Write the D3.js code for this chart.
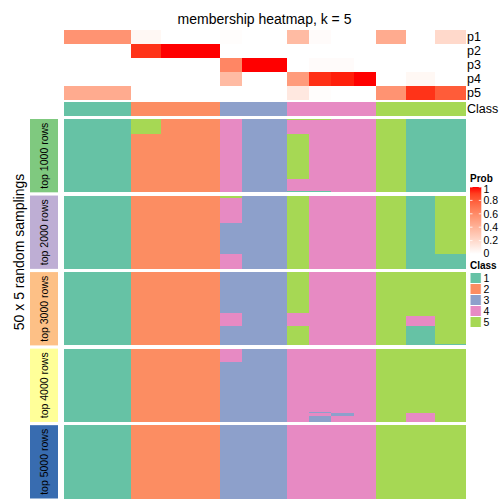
<!DOCTYPE html>
<html><head><meta charset="utf-8">
<script src="https://cdn.jsdelivr.net/npm/d3@7"></script>
<style>body{margin:0;background:#fff}svg{display:block}text{font-family:"Liberation Sans",Arial,sans-serif;fill:#000}</style>
</head><body><div id="chart"></div>
<script>
// ---- data ----
const groupSizes = [9, 4, 8, 3, 6, 3, 3, 3, 3, 4, 4, 4];
const groupClass = [1, 2, 2, 3, 3, 4, 4, 4, 4, 5, 5, 5];
const probP1 = [0.56, 0.04, 0, 0.01, 0, 0.36, 0.02, 0, 0, 0.44, 0, 0.2];
const probP2 = [0, 0.93, 1, 0, 0, 0, 0, 0, 0, 0, 0, 0];
const probP3 = [0, 0, 0, 0.62, 1, 0, 0.02, 0.02, 0, 0, 0, 0];
const probP4 = [0, 0, 0, 0.36, 0, 0.52, 0.94, 0.97, 1, 0, 0.04, 0];
const probP5 = [0.44, 0, 0, 0, 0, 0.12, 0.01, 0, 0, 0.56, 0.93, 0.8];
const probRows = ["p1", "p2", "p3", "p4", "p5"];
const sectionNames = ["top 1000 rows", "top 2000 rows", "top 3000 rows", "top 4000 rows", "top 5000 rows"];
const sectionColors = ["#7FC97F", "#BEAED4", "#FDC086", "#FFFF99", "#386CB0"];
const nSamplings = 50;
// run-length class assignments (class:count) per sample group, top to bottom
const sec1000 = ["1:50", "5:10,2:40", "2:50", "4:50", "3:50", "5:1,4:9,5:31,4:8,1:1", "5:1,4:48,1:1", "4:50", "4:50", "5:50", "1:50", "1:50"];
const sec2000 = ["1:50", "2:50", "2:50", "5:2,4:17,3:21,4:10", "3:50", "5:50", "4:50", "4:50", "4:50", "5:50", "1:50", "5:40,1:10"];
const sec3000 = ["1:50", "2:50", "2:50", "3:28,4:9,3:13", "3:50", "5:28,4:9,5:13", "4:50", "4:50", "4:50", "5:50", "5:30,4:7,1:13", "5:49,1:1"];
const sec4000 = ["1:50", "2:50", "2:50", "4:9,3:41", "3:50", "4:50", "4:43,3:1,4:2,3:4", "4:44,3:2,4:4", "4:50", "5:50", "5:44,4:6", "5:50"];
const sec5000 = ["1:50", "2:50", "2:50", "3:50", "3:50", "4:50", "4:50", "4:50", "4:50", "5:50", "5:50", "5:50"];
const classLabels = ["1", "2", "3", "4", "5"];
const classColors = ["#66C2A5", "#FC8D62", "#8DA0CB", "#E78AC3", "#A6D854"];
const probTicks = [0, 0.2, 0.4, 0.6, 0.8, 1];

// ---- build ----
const sections = [sec1000, sec2000, sec3000, sec4000, sec5000];
const probByRow = {p1: probP1, p2: probP2, p3: probP3, p4: probP4, p5: probP5};
const samples = [];
groupSizes.forEach((n, g) => { for (let i = 0; i < n; i++) samples.push({id: samples.length, g}); });

const W = 504, H = 504;
const svg = d3.select("#chart").append("svg").attr("width", W).attr("height", H);
const x = d3.scaleBand().domain(samples.map(d => d.id)).range([64, 465]).padding(0);
const yTop = d3.scaleBand().domain(probRows).range([29.5, 100]).padding(0);
const yClass = d3.scaleBand().domain(["Class"]).range([102, 115.5]);
const ySec = d3.scaleBand().domain(sectionNames).range([119, 498.5]).paddingInner(0.042);
const probColor = d3.scaleLinear().domain([0, 1]).range(["#ffffff", "#ff0000"]).interpolate(d3.interpolateLab);
const classColor = d3.scaleOrdinal().domain(classLabels).range(classColors);

// title
svg.append("text").attr("x", 264.5).attr("y", 23.5).attr("text-anchor", "middle").attr("font-size", 14).text("membership heatmap, k = 5");

// prob rows
const gTop = svg.append("g").attr("shape-rendering", "crispEdges");
probRows.forEach(r => {
  gTop.selectAll(null).data(samples).enter().append("rect")
    .attr("x", d => x(d.id)).attr("width", x.bandwidth() + 0.5)
    .attr("y", yTop(r)).attr("height", yTop.bandwidth())
    .attr("fill", d => probColor(probByRow[r][d.g]));
  svg.append("text").attr("x", 467).attr("y", yTop(r) + yTop.bandwidth() / 2 + 4.5).attr("font-size", 12.5).text(r);
});
// class row
gTop.selectAll(null).data(samples).enter().append("rect")
  .attr("x", d => x(d.id)).attr("width", x.bandwidth() + 0.5)
  .attr("y", yClass("Class")).attr("height", yClass.bandwidth())
  .attr("fill", d => classColor(String(groupClass[d.g])));
svg.append("text").attr("x", 467).attr("y", yClass("Class") + yClass.bandwidth() / 2 + 4.5).attr("font-size", 12.5).text("Class");

// sections
sections.forEach((sec, si) => {
  const name = sectionNames[si];
  const y = d3.scaleLinear().domain([0, nSamplings]).range([ySec(name), ySec(name) + ySec.bandwidth()]);
  const runs = [];
  samples.forEach(s => {
    let start = 0;
    sec[s.g].split(",").forEach(tok => {
      const [c, n] = tok.split(":");
      runs.push({id: s.id, cls: c, start, end: start + (+n)});
      start += +n;
    });
  });
  svg.append("g").attr("shape-rendering", "crispEdges").selectAll("rect").data(runs).enter().append("rect")
    .attr("x", d => x(d.id)).attr("width", x.bandwidth() + 0.5)
    .attr("y", d => y(d.start)).attr("height", d => y(d.end) - y(d.start))
    .attr("fill", d => classColor(d.cls));
  // left label box
  svg.append("rect").attr("x", 30).attr("width", 28).attr("y", ySec(name)).attr("height", ySec.bandwidth())
    .attr("fill", sectionColors[si]);
  const cy = ySec(name) + ySec.bandwidth() / 2;
  svg.append("text").attr("transform", `translate(48,${cy}) rotate(-90)`).attr("text-anchor", "middle")
    .attr("font-size", 10.5).text(name);
});

svg.append("text").attr("transform", "translate(23.5,252) rotate(-90)").attr("text-anchor", "middle")
  .attr("font-size", 14).text("50 x 5 random samplings");

// legend: Prob
const lg = svg.append("g");
lg.append("text").attr("x", 470).attr("y", 181.5).attr("font-size", 10).attr("font-weight", "bold").text("Prob");
const yLeg = d3.scaleLinear().domain([0, 1]).range([254, 187]);
const defs = svg.append("defs");
const grad = defs.append("linearGradient").attr("id", "pg").attr("x1", 0).attr("y1", 1).attr("x2", 0).attr("y2", 0);
d3.range(0, 1.001, 0.1).forEach(t => grad.append("stop").attr("offset", t).attr("stop-color", probColor(t)));
lg.append("rect").attr("x", 470).attr("y", yLeg(1)).attr("width", 11.3).attr("height", yLeg(0) - yLeg(1)).attr("fill", "url(#pg)");
probTicks.forEach(t => {
  lg.append("line").attr("x1", 470).attr("x2", 472.5).attr("y1", yLeg(t)).attr("y2", yLeg(t)).attr("stroke", "#fff").attr("stroke-width", 0.8);
  lg.append("line").attr("x1", 478.8).attr("x2", 481.3).attr("y1", yLeg(t)).attr("y2", yLeg(t)).attr("stroke", "#fff").attr("stroke-width", 0.8);
  const ly = Math.min(Math.max(yLeg(t), 189.5), 253);
  lg.append("text").attr("x", 483.5).attr("y", ly + 3.7).attr("font-size", 10.5).text(d3.format("~g")(t));
});
// legend: Class
lg.append("text").attr("x", 470).attr("y", 268.5).attr("font-size", 10).attr("font-weight", "bold").text("Class");
const sw = 11;
classLabels.forEach((c, i) => {
  lg.append("rect").attr("x", 470).attr("y", 272.5 + i * sw).attr("width", 11.3).attr("height", sw)
    .attr("fill", classColor(c)).attr("stroke", "#fff").attr("stroke-width", 1);
  lg.append("text").attr("x", 483.5).attr("y", 272.5 + i * sw + sw / 2 + 3.8).attr("font-size", 10.5).text(c);
});
</script></body></html>
